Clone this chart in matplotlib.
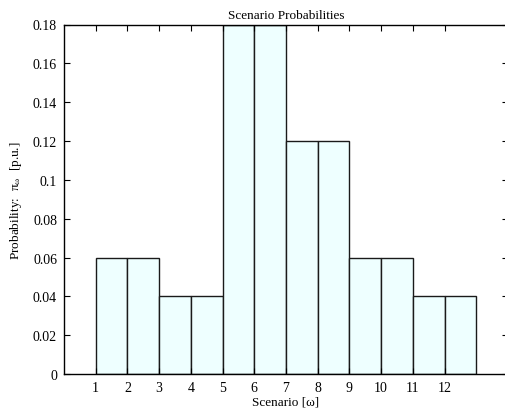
import matplotlib.pyplot as plt

# Szenarien und Wahrscheinlichkeiten
scenarios = [1, 2, 3, 4, 5, 6, 7, 8, 9, 10, 11, 12]
probabilities = [0.06, 0.06, 0.04, 0.04, 0.18, 0.18, 0.12, 0.12, 0.06, 0.06, 0.04, 0.04]
y_ticks = [0, 0.02, 0.04, 0.06, 0.08, 0.1, 0.12, 0.14, 0.16, 0.18]
y_tick_labels = ["0", "0.02", "0.04", "0.06", "0.08", "0.1", "0.12", "0.14", "0.16", "0.18"]

plt.rcParams['font.family'] = ['Liberation Serif', 'DejaVu Serif']

fig = plt.figure(figsize=(5.05, 4.14), dpi=100)
# Achse rechts leicht abgeschnitten wie im Original
ax = fig.add_axes([64 / 505, 1 - 375 / 414, 444 / 505, 349.5 / 414])

ax.bar(scenarios, probabilities, width=1.0, align='edge',
       color='#eeffff', edgecolor='#1a1a1a', linewidth=1.0)

ax.set_xlim(0, 14)
ax.set_ylim(0, 0.18)
ax.set_xticks(scenarios)
ax.set_yticks(y_ticks)
ax.set_yticklabels(y_tick_labels)
ax.tick_params(direction='in', top=True, right=True, length=4, width=0.8,
               labelsize=10, pad=5)
for s in ax.spines.values():
    s.set_linewidth(1.0)

ax.set_title("Scenario Probabilities", fontsize=9.5, pad=5)
ax.set_xlabel("Scenario [ω]", fontsize=9.5, labelpad=1)
ax.set_ylabel(r"Probability:  $\mathregular{π_{ω}}$  [p.u.]", fontsize=9.5, labelpad=6)

fig.savefig("out.png", dpi=100)
